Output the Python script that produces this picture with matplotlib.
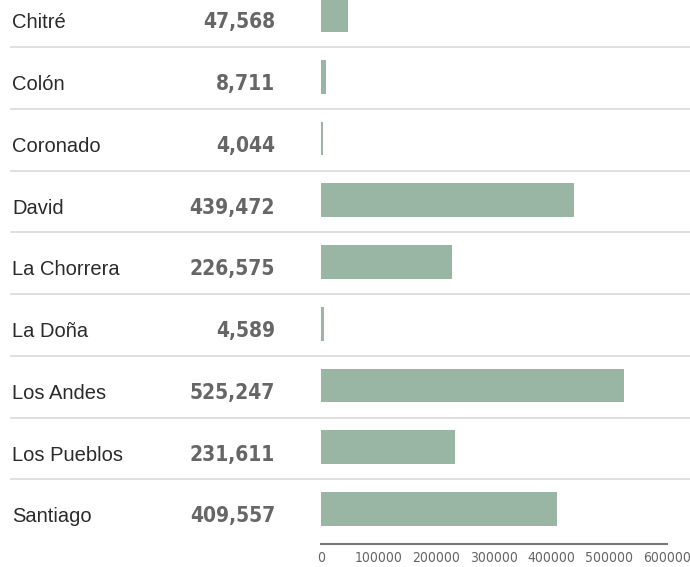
import matplotlib
matplotlib.use("Agg")
import matplotlib.pyplot as plt
import matplotlib.transforms as mtransforms

# datos
lugares = ['Chitré', 'Colón', 'Coronado', 'David', 'La Chorrera',
           'La Doña', 'Los Andes', 'Los Pueblos', 'Santiago']
valores = [47568, 8711, 4044, 439472, 226575, 4589, 525247, 231611, 409557]
ticks = [0, 100000, 200000, 300000, 400000, 500000, 600000]

verde = '#98b6a3'

fig = plt.figure(figsize=(6.9, 5.67), dpi=100)
ax = fig.add_axes([321 / 690, 1 - 544 / 567, 346 / 690, 544 / 567])

filas = list(range(len(lugares)))
ax.barh(filas, valores, height=0.55, color=verde)

ax.set_xlim(0, 600000)
ax.set_ylim(len(lugares) - 1 + 0.567, -0.243)

for s in ['top', 'right', 'left']:
    ax.spines[s].set_visible(False)
ax.spines['bottom'].set_color('#777777')
ax.spines['bottom'].set_linewidth(1.5)

ax.set_yticks([])
ax.set_xticks(ticks)
ax.set_xticklabels([str(t) for t in ticks], family='DejaVu Sans', stretch='condensed',
                   fontsize=10, color='#666666')
ax.tick_params(axis='x', length=0, pad=5)

trans = mtransforms.blended_transform_factory(fig.transFigure, ax.transData)

# nombres y valores
for i, (nombre, v) in enumerate(zip(lugares, valores)):
    ax.text(12 / 690, i + 0.215, nombre, transform=trans, ha='left', va='baseline',
            family=['Liberation Sans', 'DejaVu Sans'], fontsize=14.5, color='#2b2b2b')
    ax.text(275 / 690, i + 0.215, f'{v:,}', transform=trans, ha='right', va='baseline',
            family='DejaVu Sans', stretch='condensed', fontsize=15,
            fontweight='bold', color='#666666')

# separadores
for i in range(len(lugares) - 1):
    y = i + 0.52
    ax.plot([11 / 690, 1.0], [y, y], transform=trans, color='#d9d9d9',
            linewidth=1.2, clip_on=False)

fig.savefig('out.png', dpi=100)
